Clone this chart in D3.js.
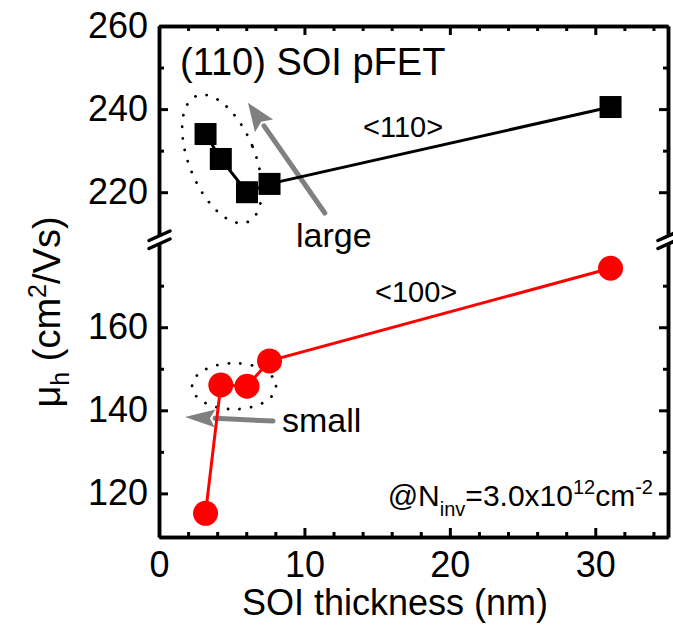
<!DOCTYPE html>
<html>
<head>
<meta charset="utf-8">
<script src="https://cdn.jsdelivr.net/npm/d3@7"></script>
<style>
  body { margin: 0; background: #fff; }
  text { font-family: "Liberation Sans", Arial, sans-serif; fill: #000; }
</style>
</head>
<body>
<script>
// data
var thickness = [3.2, 4.25, 6.05, 7.6, 31.05];     // SOI thickness (nm)
var mu110 = [234, 228, 220, 222, 240.5];          // <110> channel, black squares
var mu100 = [115.2, 146.1, 145.8, 151.9, 174.2];  // <100> channel, red circles
var xTicks = [0, 10, 20, 30];
var xMinor = [2, 4, 6, 8, 12, 14, 16, 18, 22, 24, 26, 28, 32, 34];
var yTopTicks = [220, 240, 260];
var yTopMinor = [230, 250];
var yBotTicks = [120, 140, 160];
var yBotMinor = [130, 150, 170];

var width = 673;
var height = 629;
var plotL = 159, plotR = 668, plotT = 26, plotB = 537;
var breakY = 240;

var svg = d3.select("body")
    .append("svg")
    .attr("width", width)
    .attr("height", height);

var x = d3.scaleLinear().domain([0, 35]).range([plotL, plotR]);
var yTop = d3.scaleLinear().domain([208.5, 260]).range([breakY, plotT]);
var yBot = d3.scaleLinear().domain([109.5, 181]).range([plotB, breakY]);

// axes, ticks pointing inside
function styleAxis(g) {
    g.selectAll("path.domain").attr("stroke", "#000").attr("stroke-width", 3.5);
    g.selectAll(".tick line").attr("stroke", "#000").attr("stroke-width", 3);
    g.selectAll(".tick text").style("font-size", "36px")
        .style("font-family", "'Liberation Sans', Arial, sans-serif");
}

function drawAxis(axis, tx, ty) {
    var g = svg.append("g").attr("transform", "translate(" + tx + "," + ty + ")").call(axis);
    styleAxis(g);
    return g;
}

// bottom
drawAxis(d3.axisBottom(x).tickValues(xTicks).tickSize(-9).tickSizeOuter(0).tickPadding(14), 0, plotB);
drawAxis(d3.axisBottom(x).tickValues(xMinor).tickSize(-5).tickSizeOuter(0).tickFormat(""), 0, plotB);
// top
drawAxis(d3.axisTop(x).tickValues(xTicks).tickSize(-9).tickSizeOuter(0).tickFormat(""), 0, plotT);
drawAxis(d3.axisTop(x).tickValues(xMinor).tickSize(-5).tickSizeOuter(0).tickFormat(""), 0, plotT);
// left
drawAxis(d3.axisLeft(yTop).tickValues(yTopTicks).tickSize(-9).tickSizeOuter(0).tickPadding(11), plotL, 0);
drawAxis(d3.axisLeft(yTop).tickValues(yTopMinor).tickSize(-5).tickSizeOuter(0).tickFormat(""), plotL, 0);
drawAxis(d3.axisLeft(yBot).tickValues(yBotTicks).tickSize(-9).tickSizeOuter(0).tickPadding(11), plotL, 0);
drawAxis(d3.axisLeft(yBot).tickValues(yBotMinor).tickSize(-5).tickSizeOuter(0).tickFormat(""), plotL, 0);
// right
drawAxis(d3.axisRight(yTop).tickValues(yTopTicks).tickSize(-9).tickSizeOuter(0).tickFormat(""), plotR, 0);
drawAxis(d3.axisRight(yTop).tickValues(yTopMinor).tickSize(-5).tickSizeOuter(0).tickFormat(""), plotR, 0);
drawAxis(d3.axisRight(yBot).tickValues(yBotTicks).tickSize(-9).tickSizeOuter(0).tickFormat(""), plotR, 0);
drawAxis(d3.axisRight(yBot).tickValues(yBotMinor).tickSize(-5).tickSizeOuter(0).tickFormat(""), plotR, 0);

// axis break marks
[plotL, plotR].forEach(function(ax) {
    svg.append("rect")
        .attr("x", ax - 3).attr("y", breakY - 3)
        .attr("width", 6).attr("height", 6)
        .attr("fill", "#fff");
    [-4, 4].forEach(function(o) {
        svg.append("line")
            .attr("x1", ax - 10).attr("y1", breakY + 4.5 + o)
            .attr("x2", ax + 11).attr("y2", breakY - 5 + o)
            .attr("stroke", "#000")
            .attr("stroke-width", 3.5)
            .attr("stroke-linecap", "round");
    });
});

// dotted ellipses
svg.append("ellipse")
    .attr("cx", x(4.33)).attr("cy", yTop(228))
    .attr("rx", 33).attr("ry", 68)
    .attr("transform", "rotate(-22," + x(4.33) + "," + yTop(228) + ")")
    .attr("fill", "none")
    .attr("stroke", "#000")
    .attr("stroke-width", 2.8)
    .attr("stroke-linecap", "round")
    .attr("stroke-dasharray", "0.1,11.5");

svg.append("ellipse")
    .attr("cx", x(5.16)).attr("cy", yBot(145.8))
    .attr("rx", 42).attr("ry", 23)
    .attr("fill", "none")
    .attr("stroke", "#000")
    .attr("stroke-width", 2.8)
    .attr("stroke-linecap", "round")
    .attr("stroke-dasharray", "0.1,11.5");

// grey arrows
function arrow(x1, y1, x2, y2, headLen, headHalf) {
    var ang = Math.atan2(y2 - y1, x2 - x1);
    var bx = x2 - headLen * Math.cos(ang), by = y2 - headLen * Math.sin(ang);
    svg.append("line")
        .attr("x1", x1).attr("y1", y1).attr("x2", bx).attr("y2", by)
        .attr("stroke", "#808080").attr("stroke-width", 5)
        .attr("stroke-linecap", "round");
    var px = -Math.sin(ang), py = Math.cos(ang);
    svg.append("path")
        .attr("d", "M" + x2 + "," + y2 +
            "L" + (bx + px * headHalf) + "," + (by + py * headHalf) +
            "L" + (bx + Math.cos(ang) * 5) + "," + (by + Math.sin(ang) * 5) +
            "L" + (bx - px * headHalf) + "," + (by - py * headHalf) + "Z")
        .attr("fill", "#808080");
}
arrow(x(11.4), yTop(215), x(6.12), yTop(241.5), 28, 11);
arrow(x(7.84), yBot(137.4), x(1.79), yBot(138.4), 30, 9);

// series lines
var pts110 = thickness.map(function(t, i) { return [t, mu110[i]]; });
var pts100 = thickness.map(function(t, i) { return [t, mu100[i]]; });

svg.append("path")
    .datum(pts110)
    .attr("d", d3.line().x(function(d) { return x(d[0]); }).y(function(d) { return yTop(d[1]); }))
    .attr("fill", "none")
    .attr("stroke", "#000")
    .attr("stroke-width", 3);

svg.append("path")
    .datum(pts100)
    .attr("d", d3.line().x(function(d) { return x(d[0]); }).y(function(d) { return yBot(d[1]); }))
    .attr("fill", "none")
    .attr("stroke", "#ff0000")
    .attr("stroke-width", 3);

// markers
svg.append("g")
    .selectAll("rect")
    .data(pts110)
    .enter()
    .append("rect")
    .attr("width", 22)
    .attr("height", 22)
    .attr("x", function(d) { return x(d[0]) - 11; })
    .attr("y", function(d) { return yTop(d[1]) - 11; })
    .attr("fill", "#000");

svg.append("g")
    .selectAll("circle")
    .data(pts100)
    .enter()
    .append("circle")
    .attr("r", 12.5)
    .attr("cx", function(d) { return x(d[0]); })
    .attr("cy", function(d) { return yBot(d[1]); })
    .attr("fill", "#ff0000");

// texts
svg.append("text")
    .attr("x", 180).attr("y", 75)
    .style("font-size", "38px")
    .text("(110) SOI pFET");

svg.append("text")
    .attr("x", 363).attr("y", 137)
    .style("font-size", "29px")
    .text("<110>");

svg.append("text")
    .attr("x", 375).attr("y", 302)
    .style("font-size", "29px")
    .text("<100>");

svg.append("text")
    .attr("x", 296).attr("y", 247)
    .style("font-size", "34px")
    .text("large");

svg.append("text")
    .attr("x", 282).attr("y", 432)
    .style("font-size", "34px")
    .text("small");

var ninv = svg.append("text")
    .attr("x", 653).attr("y", 506)
    .attr("text-anchor", "end")
    .style("font-size", "30px");
ninv.append("tspan").text("@N");
ninv.append("tspan").attr("dy", 10).style("font-size", "20px").text("inv");
ninv.append("tspan").attr("dy", -10).text("=3.0x10");
ninv.append("tspan").attr("dy", -12).style("font-size", "20px").text("12");
ninv.append("tspan").attr("dy", 12).text("cm");
ninv.append("tspan").attr("dy", -12).style("font-size", "20px").text("-2");

svg.append("text")
    .attr("x", 395).attr("y", 615)
    .attr("text-anchor", "middle")
    .style("font-size", "36px")
    .text("SOI thickness (nm)");

var ylab = svg.append("text")
    .attr("transform", "translate(60,312) rotate(-90)")
    .attr("text-anchor", "middle")
    .style("font-size", "38px");
ylab.append("tspan").text("\u03bc");
ylab.append("tspan").attr("dy", 9).style("font-size", "25px").text("h");
ylab.append("tspan").attr("dy", -9).text(" (cm");
ylab.append("tspan").attr("dy", -14).style("font-size", "25px").text("2");
ylab.append("tspan").attr("dy", 14).text("/Vs)");
</script>
</body>
</html>
